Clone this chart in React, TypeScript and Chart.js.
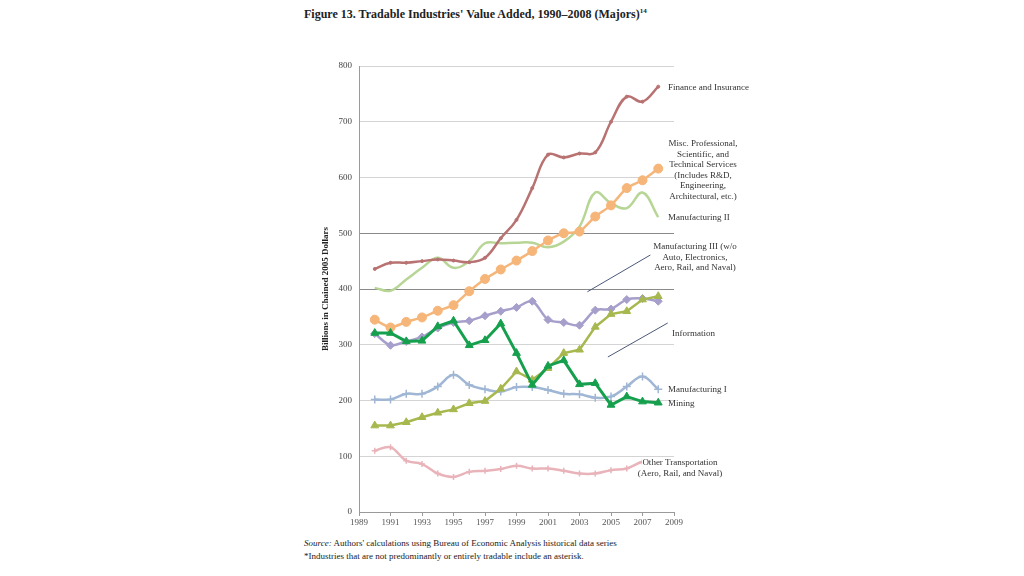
import React, { useEffect, useRef } from "react";
import { Chart, registerables } from "chart.js";

Chart.register(...registerables);

const years = [1990, 1991, 1992, 1993, 1994, 1995, 1996, 1997, 1998, 1999, 2000, 2001, 2002, 2003, 2004, 2005, 2006, 2007, 2008];

const finance = [436, 447, 447, 450, 453, 451, 448, 456, 491, 524, 581, 641, 636, 643, 645, 700, 745, 736, 763];
const miscProf = [345, 331, 341, 349, 361, 371, 396, 418, 435, 451, 468, 487, 500, 503, 530, 550, 581, 595, 616];
const mfgII = [402, 397, 417, 438, 456, 438, 450, 482, 482, 483, 483, 475, 485, 512, 573, 554, 545, 573, 529];
const mfgIII = [320, 299, 306, 314, 330, 340, 343, 352, 360, 367, 378, 345, 340, 335, 362, 364, 381, 383, 378];
const information = [155, 155, 161, 170, 178, 184, 195, 199, 221, 252, 237, 258, 285, 291, 332, 355, 360, 381, 387];
const mining = [321, 321, 306, 307, 333, 343, 299, 308, 338, 285, 228, 262, 272, 229, 231, 192, 207, 198, 196];
const mfgI = [202, 202, 212, 212, 225, 246, 228, 220, 216, 224, 224, 219, 212, 211, 205, 207, 225, 243, 220];
const otherTrans = [110, 116, 92, 86, 69, 63, 72, 74, 77, 83, 78, 78, 74, 69, 69, 75, 78, 90, 92];

const yTicks = [0, 100, 200, 300, 400, 500, 600, 700, 800];
const xTicks = [1989, 1991, 1993, 1995, 1997, 1999, 2001, 2003, 2005, 2007, 2009];

// leader lines: [x1, y1, x2, y2] in data units
const leaderMfgIII = [2003.5, 395, 2007.5, 461];
const leaderInfo = [2004.8, 278, 2008.6, 339];

const FONT = "'Liberation Serif', 'DejaVu Serif', serif";

function pts(vals: number[]) {
  return years.map((y, i) => ({ x: y, y: vals[i] }));
}

const leaderPlugin = {
  id: "leaders",
  afterDatasetsDraw(chart: any) {
    const { ctx, scales } = chart;
    const xs = scales.x;
    const ys = scales.y;
    ctx.save();
    ctx.strokeStyle = "#4a5878";
    ctx.lineWidth = 1;
    [leaderMfgIII, leaderInfo].forEach((l) => {
      ctx.beginPath();
      ctx.moveTo(xs.getPixelForValue(l[0]), ys.getPixelForValue(l[1]));
      ctx.lineTo(xs.getPixelForValue(l[2]), ys.getPixelForValue(l[3]));
      ctx.stroke();
    });
    ctx.restore();
  },
};

function ChartCanvas() {
  const ref = useRef<HTMLCanvasElement | null>(null);
  useEffect(() => {
    if (!ref.current) return;
    const ds = (
      label: string,
      data: number[],
      color: string,
      pointStyle: any,
      radius: number,
      width: number,
      tension: number
    ) => ({
      label,
      data: pts(data),
      borderColor: color,
      backgroundColor: color,
      pointBackgroundColor: color,
      pointBorderColor: color,
      pointStyle,
      pointRadius: radius,
      pointBorderWidth: pointStyle === "cross" ? 1.5 : 1,
      borderWidth: width,
      tension,
    });
    const chart = new Chart(ref.current, {
      type: "line",
      data: {
        datasets: [
          ds("Mining", mining, "#16a04e", "triangle", 4.5, 3, 0),
          ds("Information", information, "#a6b84e", "triangle", 4.5, 2.5, 0),
          ds("Manufacturing III", mfgIII, "#a69fcb", "rectRot", 4, 2.5, 0.3),
          ds("Misc. Professional", miscProf, "#f6b579", "circle", 4.5, 2.5, 0.2),
          ds("Finance and Insurance", finance, "#b87272", "circle", 1.5, 2.5, 0.4),
          ds("Manufacturing II", mfgII, "#b7d594", "circle", 0, 2.5, 0.4),
          ds("Manufacturing I", mfgI, "#9fb6d4", "cross", 4, 2.5, 0.4),
          ds("Other Transportation", otherTrans, "#e9b3ba", "cross", 3, 2.5, 0.4),
        ],
      },
      options: {
        animation: false,
        responsive: false,
        maintainAspectRatio: false,
        layout: { padding: { left: 0, right: 116, top: 16, bottom: 0 } },
        plugins: { legend: { display: false }, tooltip: { enabled: false } },
        scales: {
          x: {
            type: "linear",
            min: 1989,
            max: 2009,
            afterBuildTicks: (s: any) => {
              s.ticks = xTicks.map((v) => ({ value: v }));
            },
            afterFit: (s: any) => {
              s.height = 18;
            },
            ticks: {
              font: { family: FONT, size: 9 },
              color: "#555",
              padding: 1,
              maxRotation: 0,
              callback: (v: any) => String(v),
            },
            grid: { drawOnChartArea: false, drawTicks: true, tickLength: 4, color: "#9a9a9a" },
            border: { color: "#9a9a9a" },
          },
          y: {
            min: 0,
            max: 800,
            afterBuildTicks: (s: any) => {
              s.ticks = yTicks.map((v) => ({ value: v }));
            },
            afterFit: (s: any) => {
              s.width = 59;
            },
            ticks: {
              font: { family: FONT, size: 9 },
              color: "#444",
              padding: 7,
            },
            grid: {
              drawTicks: false,
              color: (c: any) => (c.tick && (c.tick.value === 400 || c.tick.value === 500) ? "#8a8a8a" : "#d4d4d4"),
            },
            border: { color: "#9a9a9a" },
            title: {
              display: true,
              text: "Billions in Chained 2005 Dollars",
              font: { family: FONT, size: 9, weight: "bold" },
              color: "#222",
              padding: { top: 20, bottom: 0 },
            },
          },
        },
      },
      plugins: [leaderPlugin],
    });
    return () => chart.destroy();
  }, []);
  return (
    <canvas
      ref={ref}
      width={490}
      height={480}
      style={{ position: "absolute", left: 300, top: 50, width: 490, height: 480 }}
    />
  );
}

const lbl = (top: number, left: number, lines: string[], center = false, width = 0, bg = false) => (
  <div
    style={{
      position: "absolute",
      top,
      left,
      width: width || undefined,
      textAlign: center ? "center" : "left",
      fontFamily: FONT,
      fontSize: 9,
      lineHeight: "10.6px",
      color: "#333",
      whiteSpace: "nowrap",
    }}
  >
    {lines.map((l, i) => (
      <div key={i}>
        <span style={{ background: bg ? "#fff" : undefined }}>{l}</span>
      </div>
    ))}
  </div>
);

export default function App() {
  return (
    <div style={{ position: "absolute", left: 0, top: 0, width: 1024, height: 576, background: "#fff", overflow: "hidden" }}>
      <div
        style={{
          position: "absolute",
          left: 304,
          top: 7,
          fontFamily: FONT,
          fontSize: 12,
          fontWeight: "bold",
          color: "#222",
          whiteSpace: "nowrap",
        }}
      >
        Figure 13. Tradable Industries' Value Added, 1990–2008 (Majors)
        <sup style={{ fontSize: 7 }}>14</sup>
      </div>
      <ChartCanvas />
      {lbl(82, 668, ["Finance and Insurance"])}
      {lbl(138, 648, ["Misc. Professional,", "Scientific, and", "Technical Services", "(Includes R&D,", "Engineering,", "Architectural, etc.)"], true, 110)}
      {lbl(212, 668, ["Manufacturing II"])}
      {lbl(241, 640, ["Manufacturing III (w/o", "Auto, Electronics,", "Aero, Rail, and Naval)"], true, 110)}
      {lbl(328, 672, ["Information"])}
      {lbl(384, 668, ["Manufacturing I"])}
      {lbl(398, 668, ["Mining"])}
      {lbl(457, 625, ["Other Transportation", "(Aero, Rail, and Naval)"], true, 110, true)}
      <div
        style={{
          position: "absolute",
          left: 304,
          top: 537,
          fontFamily: FONT,
          fontSize: 9,
          lineHeight: "12.5px",
          color: "#1a1a1a",
          whiteSpace: "nowrap",
        }}
      >
        <div>
          <i>Source:</i> Authors' calculations using Bureau of Economic Analysis historical data series
        </div>
        <div>*Industries that are not predominantly or entirely tradable include an asterisk.</div>
      </div>
    </div>
  );
}
